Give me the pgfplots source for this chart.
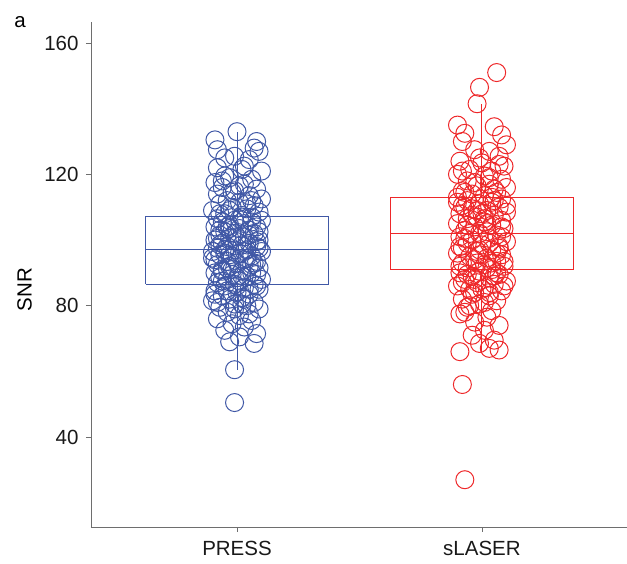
\documentclass[border=0pt]{standalone}
\usepackage{pgfplots}
\pgfplotsset{compat=1.18}
\usepackage{fontspec}
\setmainfont{Liberation Sans}
\definecolor{pblue}{RGB}{64,88,166}
\definecolor{sred}{RGB}{238,40,42}
\definecolor{axgray}{RGB}{110,110,110}

\begin{document}
\begin{tikzpicture}
\begin{axis}[
  name=ax,
  scale only axis,
  width=536pt, height=505pt,
  xmin=0.404, xmax=2.592,
  ymin=12.6, ymax=166.4,
  axis x line*=bottom, axis y line*=left,
  axis line style={-, draw=axgray, line width=0.9pt},
  tick style={draw=axgray, line width=0.8pt},
  tick align=outside,
  major tick length=5pt,
  xtick={1,2}, xticklabels={PRESS,sLASER},
  ytick={40,80,120,160},
  /pgf/number format/assume math mode=true,
  tick label style={font=\fontsize{20.5}{24}\selectfont, text=black!90},
  xticklabel style={yshift=-6pt},
  yticklabel style={xshift=-4pt},
  ylabel={SNR},
  ylabel style={font=\fontsize{20.5}{24}\selectfont, at={(axis description cs:-0.124,0.47)}, anchor=center},
  clip=false,
]
% PRESS points
\addplot[only marks, mark=o, mark size=9pt, color=pblue, mark options={line width=1pt}] table {
x y
1.00 133.0
0.91 130.5
1.08 130.0
0.92 127.5
1.09 127.0
0.95 125.0
1.05 124.5
0.92 122.0
1.02 121.5
1.10 121.0
0.97 119.0
1.06 118.5
0.91 117.5
1.03 117.0
0.94 116.0
1.08 115.5
0.99 115.0
0.92 114.0
1.05 113.5
1.10 112.5
0.96 112.0
1.01 111.5
0.93 111.0
1.07 110.5
0.98 110.0
1.04 109.5
0.90 109.0
1.09 108.5
0.95 108.0
1.02 107.5
1.06 107.0
0.92 106.5
0.99 106.0
1.10 106.0
0.94 105.5
1.03 105.0
0.97 104.5
1.08 104.0
0.91 104.0
1.01 103.5
1.05 103.0
0.95 102.5
0.99 102.0
1.07 102.0
0.93 101.5
1.03 101.0
0.97 100.5
1.09 100.0
0.91 100.0
1.00 99.5
1.05 99.0
0.94 99.0
1.02 98.5
0.96 98.0
1.08 98.0
0.92 97.5
1.04 97.0
0.99 97.0
1.10 96.5
0.95 96.0
1.01 96.0
0.93 95.5
1.06 95.0
0.98 95.0
0.90 94.5
1.03 94.0
1.08 93.5
0.96 93.5
1.00 93.0
0.92 92.5
1.05 92.0
0.97 92.0
1.09 91.5
0.94 91.0
1.02 90.5
0.91 90.0
1.06 90.0
0.98 89.5
1.04 89.0
0.93 88.5
1.10 88.0
0.96 88.0
1.01 87.5
0.92 87.0
1.07 86.5
0.99 86.5
0.95 86.0
1.03 85.5
1.09 85.0
0.91 84.5
1.00 84.0
1.05 83.5
0.94 83.0
1.02 82.5
0.97 82.0
0.90 81.5
1.07 81.0
0.99 80.5
1.04 80.0
0.93 79.5
1.09 79.0
0.96 78.0
1.01 77.0
0.92 76.0
1.06 75.5
0.98 74.5
1.03 73.5
0.95 72.5
1.08 71.5
1.01 70.5
0.97 69.0
1.07 68.5
0.99 60.5
0.99 50.5
1.04 111.0
0.97 109.0
1.06 105.5
0.93 103.0
1.00 101.0
1.08 99.5
0.95 97.0
1.03 96.5
0.91 94.0
1.06 92.5
0.98 91.0
1.02 89.0
0.94 87.5
1.08 86.0
0.96 84.5
1.03 82.0
0.99 79.0
1.05 77.5
0.93 108.0
1.01 106.5
0.96 104.0
1.09 102.5
0.92 100.5
1.04 98.5
0.97 95.5
1.07 93.0
0.94 90.5
1.00 88.5
1.05 85.0
0.91 83.5
1.02 80.5
0.98 114.5
1.06 112.0
0.95 119.5
1.03 122.5
0.99 125.5
1.07 128.0
0.94 118.0
1.01 116.5
1.09 97.5
0.93 98.5
1.05 101.5
0.97 103.5
1.02 107.0
0.90 96.5
1.08 89.5
0.96 91.5
1.04 94.5
1.00 86.0
0.92 81.0
};
% sLASER points
\addplot[only marks, mark=o, mark size=9pt, color=sred, mark options={line width=1pt}] table {
x y
2.06 151.0
1.99 146.5
1.98 141.5
1.90 135.0
1.93 132.5
2.05 134.5
2.08 132.0
1.92 130.0
2.10 129.0
1.97 127.5
2.03 127.0
2.07 125.5
1.91 124.0
2.00 123.5
2.09 122.5
1.95 121.5
2.04 121.0
1.90 120.0
2.01 119.5
2.08 118.5
1.94 118.0
2.03 117.0
1.98 116.5
2.10 116.0
1.92 115.0
2.06 114.5
1.96 114.0
2.01 113.5
1.90 113.0
2.08 112.5
1.94 112.0
2.04 111.5
1.99 111.0
1.92 110.5
2.07 110.0
1.96 109.5
2.02 109.0
2.10 108.5
1.91 108.0
2.05 107.5
1.98 107.0
1.94 106.5
2.08 106.0
2.01 105.5
1.90 105.0
2.04 104.5
1.97 104.0
2.09 103.5
1.93 103.0
2.02 102.5
1.99 102.0
2.06 101.5
1.91 101.0
2.03 100.5
1.96 100.0
2.10 99.5
1.94 99.0
2.00 98.5
2.07 98.0
1.92 97.5
2.04 97.0
1.98 96.5
1.90 96.0
2.08 95.5
1.95 95.0
2.02 94.5
1.97 94.0
2.06 93.5
1.92 93.0
2.01 92.5
2.09 92.0
1.94 91.5
2.04 91.0
1.99 90.5
1.91 90.0
2.07 89.5
1.96 89.0
2.03 88.5
1.93 88.0
2.10 87.5
1.98 87.0
2.05 86.5
1.90 86.0
2.01 85.5
1.95 85.0
2.08 84.5
1.97 84.0
2.03 83.0
1.92 82.0
2.06 81.5
1.99 80.5
1.94 79.5
2.04 78.5
1.91 77.5
2.02 76.5
1.97 75.0
2.07 74.0
2.01 72.5
1.96 71.0
2.05 69.5
1.99 68.5
2.03 67.0
2.07 66.5
1.91 66.0
1.92 56.0
1.93 27.0
2.05 112.0
1.93 110.0
2.00 108.0
2.08 104.0
1.95 102.0
2.03 99.0
1.91 98.0
2.06 96.0
1.98 93.0
2.02 91.5
1.94 89.5
2.09 86.0
1.96 83.5
2.01 81.0
1.93 78.0
2.05 115.5
1.97 117.5
2.03 119.0
1.92 121.0
2.07 123.0
1.99 125.0
2.04 113.0
1.90 111.5
2.10 110.5
1.96 107.5
2.02 105.0
1.93 100.5
2.07 97.5
1.99 95.5
2.04 93.0
1.91 92.0
2.06 90.0
1.97 88.0
2.00 85.0
1.95 80.0
2.08 101.0
1.94 104.5
2.01 106.5
1.98 109.0
2.05 89.0
1.92 87.0
2.03 84.0
1.99 97.0
2.09 93.5
1.93 114.5
};
% PRESS box: Q1 86.6, median 97.0, Q3 107.3, whiskers 60.4 / 133.0
\addplot[color=pblue, line width=1pt, mark=none] coordinates {(0.6265,86.6) (1.3735,86.6) (1.3735,107.3) (0.6265,107.3) (0.6265,86.6)};
\addplot[color=pblue, line width=1pt, mark=none] coordinates {(0.6265,97.0) (1.3735,97.0)};
\addplot[color=pblue, line width=1pt, mark=none] coordinates {(1,107.3) (1,133.0)};
\addplot[color=pblue, line width=1pt, mark=none] coordinates {(1,86.6) (1,60.4)};
% sLASER box: Q1 90.9, median 102.1, Q3 113.1, whiskers 65.8 / 141.5
\addplot[color=sred, line width=1pt, mark=none] coordinates {(1.6265,90.9) (2.3735,90.9) (2.3735,113.1) (1.6265,113.1) (1.6265,90.9)};
\addplot[color=sred, line width=1pt, mark=none] coordinates {(1.6265,102.1) (2.3735,102.1)};
\addplot[color=sred, line width=1pt, mark=none] coordinates {(2,113.1) (2,141.5)};
\addplot[color=sred, line width=1pt, mark=none] coordinates {(2,90.9) (2,65.8)};
\node[font=\fontsize{20.5}{24}\selectfont] at (axis description cs:-0.1325,1.0) {a};
\end{axis}
\pgfresetboundingbox
\path ([shift={(-91pt,-37pt)}]ax.south west) rectangle ([shift={(0pt,22pt)}]ax.north east);
\end{tikzpicture}
\end{document}
